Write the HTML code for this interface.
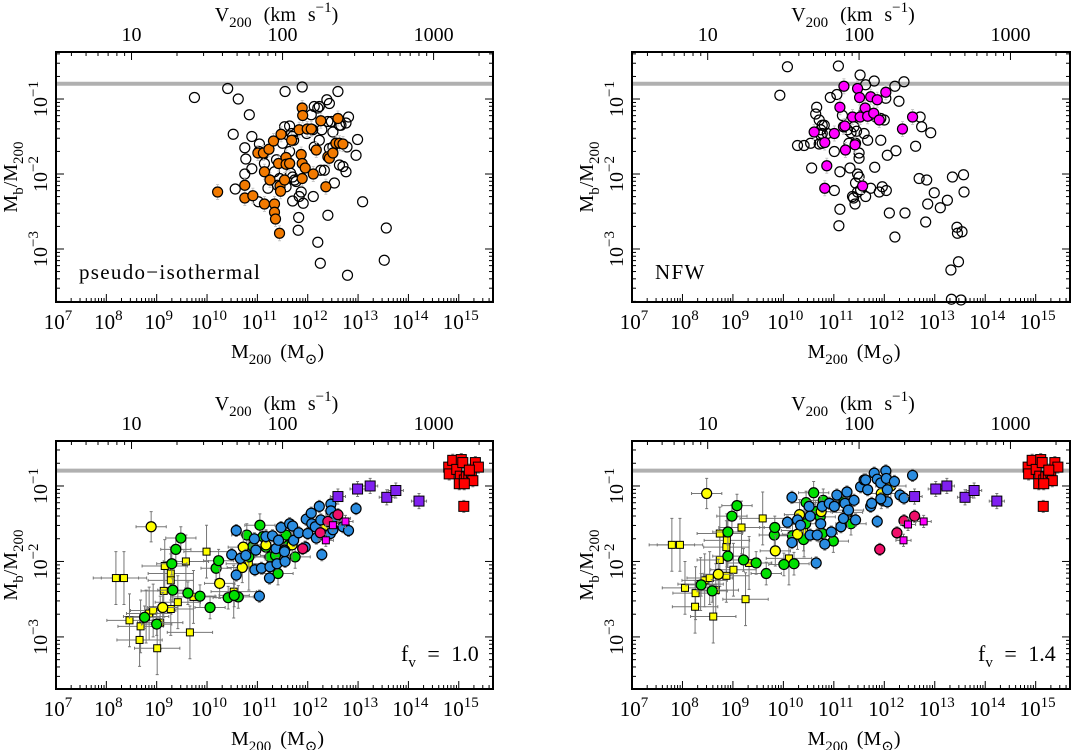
<!DOCTYPE html>
<html><head><meta charset="utf-8"><style>
html,body{margin:0;padding:0;background:#fff;}
svg{display:block;font-family:"Liberation Serif","DejaVu Serif",serif;}
</style></head><body>
<svg id="fig" width="1073" height="750" viewBox="0 0 1073 750" xmlns="http://www.w3.org/2000/svg"></svg>
<script>
// ---------- DATA (log10 M200 [Msun], log10 Mb/M200) ----------
const tlOpenM=[9.75,10.41,10.62,10.84,10.52,10.75,10.77,10.75,10.56,10.89,10.89,11.04,11.03,11.13,11.14,11.02,11.21,11.34,11.38,11.50,11.54,11.55,11.64,11.68,11.70,11.64,11.64,11.66,11.70,11.74,11.77,11.70,11.83,11.82,11.87,11.89,11.91,11.81,12.07,12.13,12.20,11.98,12.10,12.13,12.23,12.28,12.26,12.33,12.38,12.43,12.40,12.47,12.50,12.43,12.50,12.56,12.60,12.63,12.66,12.76,12.81,12.63,12.70,12.76,12.53,12.78,12.99,12.96,13.09,12.11,12.40,12.20,12.25,12.79,13.56,13.52,11.44,11.40,11.57,11.72,12.23];
const tlOpenF=[-0.98,-0.86,-1.00,-1.21,-1.47,-1.65,-1.80,-2.00,-2.20,-1.93,-1.50,-1.60,-1.70,-1.73,-1.86,-2.37,-2.19,-1.97,-1.81,-1.59,-1.37,-0.90,-1.36,-1.46,-1.50,-1.70,-1.86,-1.99,-2.04,-2.08,-2.10,-2.36,-2.30,-2.58,-2.24,-0.84,-2.39,-2.75,-1.21,-1.10,-1.12,-1.46,-1.41,-1.64,-1.55,-1.41,-1.95,-1.95,-1.01,-1.06,-1.30,-1.30,-1.44,-1.66,-1.64,-1.59,-0.90,-1.35,-1.35,-1.32,-1.24,-1.88,-1.90,-1.97,-2.12,-1.64,-1.54,-1.75,-2.37,-2.30,-2.55,-2.91,-3.19,-3.35,-2.72,-3.15,-2.06,-2.15,-2.17,-1.55,-1.10];
const tlFillM=[10.21,10.75,10.75,10.91,11.14,11.34,11.34,11.36,11.44,11.01,11.12,11.23,11.32,11.47,11.14,11.25,11.42,11.45,11.46,11.54,11.57,11.57,11.64,11.68,11.83,11.89,11.90,11.87,11.89,11.95,11.89,11.99,12.07,12.11,12.17,12.26,12.36,12.40,12.43,12.50,12.56,12.60,12.63,12.70];
const tlFillF=[-2.24,-2.15,-2.32,-2.29,-2.40,-2.40,-2.51,-2.60,-2.79,-1.72,-1.72,-1.67,-1.56,-1.47,-1.97,-2.08,-1.86,-2.16,-2.23,-2.08,-1.78,-1.87,-1.86,-1.55,-1.41,-1.12,-1.22,-1.74,-1.86,-1.92,-2.06,-1.40,-1.40,-2.00,-1.68,-1.29,-2.17,-1.77,-1.79,-1.72,-1.59,-1.26,-1.59,-1.60];
const trOpenM=[10.08,11.09,9.93,11.52,11.63,11.80,12.21,12.39,10.93,11.06,12.29,12.03,10.66,10.64,10.71,10.77,10.81,10.74,10.77,10.74,10.77,10.71,10.28,10.41,10.54,10.87,11.17,11.27,11.34,11.40,11.45,11.60,11.67,11.43,11.30,11.01,11.50,11.50,11.93,12.06,12.23,12.71,12.74,12.92,12.62,10.56,11.12,11.32,11.81,11.47,11.50,11.01,11.43,11.47,11.53,11.73,11.90,11.96,12.04,11.37,11.39,11.42,11.63,11.12,11.10,12.10,12.41,12.21,12.69,12.84,12.99,12.86,13.11,13.25,13.35,13.57,13.58,13.44,13.45,13.54,13.32,13.47,13.33,13.52,11.93,12.00,11.83,11.77,12.82,11.60,11.67];
const trOpenF=[-0.57,-0.56,-0.95,-0.68,-0.81,-0.76,-0.83,-0.77,-0.98,-0.94,-1.03,-0.99,-1.11,-1.20,-1.28,-1.35,-1.35,-1.41,-1.46,-1.48,-1.59,-1.60,-1.62,-1.62,-1.59,-1.46,-1.22,-1.41,-1.45,-1.37,-1.43,-1.46,-1.55,-1.59,-1.59,-1.70,-1.72,-1.79,-1.55,-1.75,-1.69,-1.24,-1.37,-1.45,-1.63,-1.92,-1.97,-1.92,-1.91,-2.00,-2.04,-2.22,-2.12,-2.24,-2.21,-2.19,-2.24,-2.17,-2.22,-2.30,-2.32,-2.40,-2.30,-2.47,-2.69,-2.52,-2.52,-2.84,-2.06,-2.08,-2.25,-2.40,-2.45,-2.35,-2.04,-2.01,-2.24,-2.71,-2.79,-2.77,-3.28,-3.17,-3.67,-3.68,-1.26,-1.28,-1.24,-1.21,-2.64,-1.17,-1.19];
const trFillM=[10.61,10.82,10.86,10.82,11.01,11.12,11.19,11.20,11.23,11.37,11.42,11.47,11.51,11.52,11.57,11.62,11.67,11.73,11.79,11.86,11.90,12.03,12.36,12.56,11.22];
const trFillF=[-1.44,-1.58,-1.89,-2.19,-1.46,-1.11,-1.37,-0.83,-1.68,-1.24,-1.61,-0.86,-0.98,-1.24,-2.16,-1.12,-1.23,-0.97,-1.19,-1.01,-1.28,-0.91,-1.40,-1.24,-1.36];

const blYsqM=[8.19,8.35,8.46,8.66,8.68,8.79,8.85,8.93,9.01,9.07,9.14,9.16,9.28,9.28,9.28,9.42,9.58,9.66,9.73,9.99,10.53,10.83];
const blYsqF=[-2.22,-2.22,-2.78,-3.04,-2.86,-2.73,-2.69,-2.65,-3.15,-2.81,-2.39,-2.06,-2.16,-2.25,-2.63,-2.54,-2.00,-2.94,-2.47,-1.87,-2.40,-2.03];
const blYcM=[8.89,9.12,10.25,10.72,10.70,11.17,11.69,12.36,12.55];
const blYcF=[-1.54,-2.61,-2.29,-1.81,-2.08,-1.78,-1.78,-1.53,-1.43];
const blGrM=[8.76,9.00,9.30,9.32,9.38,9.48,9.62,9.86,10.06,10.18,10.23,10.42,10.62,10.54,10.79,10.83,10.91,11.05,11.11,11.17,11.25,11.36,11.41,11.57,11.61,11.75];
const blGrF=[-2.74,-2.83,-2.03,-2.38,-1.84,-1.69,-2.42,-2.46,-2.61,-2.09,-1.99,-2.48,-2.47,-2.45,-1.65,-1.94,-1.80,-1.52,-1.67,-1.81,-1.94,-1.92,-2.16,-1.65,-1.79,-1.94];
const blBlM=[10.58,10.49,10.58,10.66,10.77,10.94,10.97,10.95,11.04,11.08,11.17,11.25,11.24,11.30,11.37,11.39,11.42,11.47,11.55,11.54,11.64,11.70,11.72,11.82,11.97,12.00,12.07,12.08,12.15,12.17,12.28,12.23,12.26,12.33,12.46,12.46,12.45,12.53,12.70,12.81,12.96,12.50,11.95,11.54];
const blBlF=[-1.59,-1.91,-2.18,-1.96,-1.92,-1.70,-1.85,-2.11,-2.46,-2.09,-1.67,-2.07,-2.22,-1.66,-1.83,-2.03,-1.72,-1.55,-2.00,-1.85,-1.50,-1.53,-1.72,-1.62,-1.44,-1.63,-1.36,-1.50,-1.54,-1.69,-1.91,-1.27,-1.45,-1.65,-1.24,-1.33,-1.63,-1.41,-1.54,-1.59,-1.30,-1.58,-1.81,-1.87];
const blCrM=[11.90,12.25,12.40,12.60];
const blCrF=[-1.83,-1.62,-1.47,-1.38];
const blMgM=[12.36,12.75,12.50];
const blMgF=[-1.72,-1.47,-1.52];
const blPuM=[12.60,12.99,13.24,13.57,13.75,14.21];
const blPuF=[-1.14,-1.04,-1.00,-1.15,-1.06,-1.20];
const blRdM=[14.80,14.81,14.88,14.96,15.03,15.05,15.08,15.01,15.11,15.15,15.20,15.25,15.28,15.33,15.39,15.10,15.11,15.21];
const blRdF=[-0.75,-0.84,-0.66,-0.78,-0.87,-0.65,-0.69,-0.97,-0.92,-0.88,-0.88,-0.82,-0.93,-0.69,-0.75,-1.27,-0.97,-0.79];

const brYsqM=[7.79,7.95,8.05,8.26,8.25,8.36,8.44,8.54,8.61,8.66,8.74,8.74,8.88,8.87,8.87,9.01,9.17,9.25,9.32,9.59,10.11,10.41];
const brYsqF=[-1.78,-1.78,-2.35,-2.42,-2.60,-2.30,-2.25,-2.22,-2.73,-2.38,-1.98,-1.63,-1.72,-1.81,-2.19,-2.11,-1.55,-2.50,-2.02,-1.43,-1.96,-1.59];
const brYcM=[8.48,8.71,9.84,10.32,10.28,10.75,11.27,11.94,12.13];
const brYcF=[-1.10,-2.17,-1.86,-1.38,-1.64,-1.34,-1.35,-1.10,-1.00];
const brGrM=[8.37,8.59,8.90,8.90,8.98,9.08,9.21,9.46,9.66,9.82,9.83,10.01,10.21,10.18,10.40,10.45,10.60,10.44,10.64,10.73,10.79,10.99,11.20,11.29,11.34,10.77];
const brGrF=[-2.31,-2.39,-1.93,-1.61,-1.40,-1.26,-1.98,-2.02,-2.16,-1.65,-1.55,-2.04,-2.03,-1.66,-1.71,-1.22,-1.09,-1.50,-1.34,-1.41,-1.19,-1.73,-1.21,-1.32,-1.50,-1.63];
const brBlM=[10.17,10.08,10.17,10.28,10.34,10.51,10.53,10.53,10.65,10.67,10.74,10.77,10.82,10.91,10.95,11.01,11.06,11.14,11.19,11.22,11.26,11.29,11.40,11.43,11.53,11.60,11.63,11.67,11.73,11.80,11.86,11.86,11.93,11.96,12.03,12.04,12.06,12.06,12.20,12.31,12.39,12.56,11.93,11.75];
const brBlF=[-1.15,-1.48,-1.75,-1.45,-1.52,-1.27,-1.40,-1.65,-2.02,-1.65,-1.50,-1.27,-1.77,-1.23,-1.61,-1.27,-1.12,-1.54,-1.43,-1.23,-1.08,-1.32,-1.19,-1.45,-1.01,-0.92,-0.92,-1.05,-1.27,-0.83,-0.91,-1.47,-0.96,-1.19,-0.80,-0.90,-1.05,-1.21,-0.94,-1.12,-1.16,-0.86,-1.17,-1.23];
const brCrM=[11.91,12.25,12.39,12.60];
const brCrF=[-1.84,-1.62,-1.46,-1.40];
const brMgM=[12.38,12.47,12.78];
const brMgF=[-1.72,-1.51,-1.47];
const brPuM=[12.60,13.02,13.24,13.60,13.78,14.23];
const brPuF=[-1.14,-1.04,-1.00,-1.15,-1.06,-1.20];
const brRdM=[14.85,14.86,14.93,15.01,15.08,15.10,15.13,15.06,15.16,15.20,15.25,15.30,15.33,15.38,15.44,15.15,15.16,15.26];
const brRdF=[-0.75,-0.84,-0.66,-0.78,-0.87,-0.65,-0.69,-0.97,-0.92,-0.88,-0.88,-0.82,-0.93,-0.69,-0.75,-1.27,-0.97,-0.79];

const xTickExps=[7,8,9,10,11,12,13,14,15];
const yTickExps=[-1,-2,-3];
const vTickLabels=[10,100,1000];
const baryonFraction=0.16;
const panelLabels=["pseudo\u2212isothermal","NFW","1.0","1.4"];

// ---------- DRAWING ----------
const NS="http://www.w3.org/2000/svg";
const svg=document.getElementById('fig');
function el(tag,attrs,parent){const e=document.createElementNS(NS,tag);for(const k in attrs)e.setAttribute(k,attrs[k]);(parent||svg).appendChild(e);return e;}

const panels=[
 {name:'panel-pseudo-isothermal',x0:56,x1:493,y0:52,y1:302,fTop:-0.373,fBot:-3.707},
 {name:'panel-nfw',x0:632,x1:1070,y0:52,y1:302,fTop:-0.373,fBot:-3.707},
 {name:'panel-fv-1-0',x0:56,x1:493,y0:441,y1:689,fTop:-0.404,fBot:-3.69},
 {name:'panel-fv-1-4',x0:632,x1:1070,y0:441,y1:689,fTop:-0.404,fBot:-3.69}
];
const M_MIN=7,M_MAX=15.68;
panels.forEach(p=>{
 p.sx=m=>p.x0+(m-M_MIN)/(M_MAX-M_MIN)*(p.x1-p.x0);
 p.sy=f=>p.y0+(p.fTop-f)/(p.fTop-p.fBot)*(p.y1-p.y0);
});

function drawAxes(p,idx){
 const g=el('g',{});
 
 
 const yb=p.sy(Math.log10(baryonFraction));
 const bl=el('line',{x1:p.x0,x2:p.x1,y1:yb,y2:yb,stroke:'#b0b0b0','stroke-width':4},g);
 
 
 for(let d=7;d<=15;d++){
  for(let k=1;k<=9;k++){
   const m=d+Math.log10(k); if(m>M_MAX)continue;
   const x=p.sx(m), L=k===1?8:4;
   el('line',{x1:x,x2:x,y1:p.y1,y2:p.y1-L,stroke:'#000','stroke-width':1},g);
  }
 }
 xTickExps.forEach(e=>{
  const t=el('text',{x:p.sx(e)+2,y:p.y1+27,'text-anchor':'middle','font-size':21},g);
  
  
  t.innerHTML='10<tspan dy="-9" font-size="15">'+e+'</tspan>';
 });
 for(let d=0;d<=3;d++){
  for(let k=1;k<=9;k++){
   const v=Math.log10(k*Math.pow(10,d)); const m=3*v+5.5;
   if(m<M_MIN||m>M_MAX)continue;
   const x=p.sx(m), L=k===1?8:4;
   el('line',{x1:x,x2:x,y1:p.y0,y2:p.y0+L,stroke:'#000','stroke-width':1},g);
  }
 }
 vTickLabels.forEach(v=>{
  const t=el('text',{x:p.sx(3*Math.log10(v)+5.5),y:p.y0-11,'text-anchor':'middle','font-size':20},g);
  
  
  t.textContent=v;
 });
 for(let d=-4;d<=0;d++){
  for(let k=1;k<=9;k++){
   const f=d+Math.log10(k); if(f>p.fTop||f<p.fBot)continue;
   const y=p.sy(f), L=k===1?8:4;
   el('line',{x1:p.x0,x2:p.x0+L,y1:y,y2:y,stroke:'#000','stroke-width':1},g);
   el('line',{x1:p.x1,x2:p.x1-L,y1:y,y2:y,stroke:'#000','stroke-width':1},g);
  }
 }
 yTickExps.forEach(e=>{
  const y=p.sy(e);
  const t=el('text',{x:0,y:0,'text-anchor':'middle','font-size':20,transform:'translate('+(p.x0-9)+','+y+') rotate(-90)'},g);
  
  
  t.innerHTML='10<tspan dy="-9" font-size="15">\u2212'+(-e)+'</tspan>';
 });
 const cx=(p.x0+p.x1)/2;
 const xt=el('text',{x:cx+3,y:p.y1+56,'text-anchor':'middle','font-size':20,'word-spacing':4},g);
 
 
 xt.innerHTML='M<tspan dy="6" font-size="15">200</tspan><tspan dy="-6"> (M</tspan><tspan dy="6" font-size="15">\u2299</tspan><tspan dy="-6">)</tspan>';
 const tt=el('text',{x:cx+2,y:p.y0-31,'text-anchor':'middle','font-size':20,'word-spacing':7},g);
 
 
 tt.innerHTML='V<tspan dy="6" font-size="15">200</tspan><tspan dy="-6"> (km s</tspan><tspan dy="-9" font-size="15">\u22121</tspan><tspan dy="9">)</tspan>';
 const yt=el('text',{x:0,y:0,'text-anchor':'middle','font-size':20,transform:'translate('+(p.x0-39)+','+((p.y0+p.y1)/2)+') rotate(-90)'},g);
 
 
 yt.innerHTML='M<tspan dy="6" font-size="15">b</tspan><tspan dy="-6">/M</tspan><tspan dy="6" font-size="15">200</tspan>';
 let lab;
 if(idx<2){lab=el('text',{x:p.x0+23,y:p.y1-23,'font-size':21,'letter-spacing':1.3},g);lab.textContent=panelLabels[idx];}
 else{lab=el('text',{x:p.x1-92,y:p.y1-28,'font-size':22,'word-spacing':6},g);lab.innerHTML='f<tspan dy="6" font-size="15">v</tspan><tspan dy="-6"> = '+panelLabels[idx]+'</tspan>';}
 
 
}

function drawSeries(p,ms,fs,opt){
 const g=el('g',{});
 
 
 ms.forEach((m,i)=>{
  const x=p.sx(m), y=p.sy(fs[i]);
  if(opt.ex||opt.ey){
   const x1=p.sx(m-opt.ex), x2=p.sx(m+opt.ex), y1=p.sy(fs[i]+opt.ey), y2=p.sy(fs[i]-opt.ey);
   el('path',{d:`M${x1},${y}H${x2}M${x},${y1}V${y2}M${x1},${y-1.5}v3M${x2},${y-1.5}v3M${x-1.5},${y1}h3M${x-1.5},${y2}h3`,stroke:opt.ec||'#777','stroke-width':1,fill:'none'},g);
  }
 });
 ms.forEach((m,i)=>{
  const x=p.sx(m), y=p.sy(fs[i]); let mk;
  if(opt.shape==='sq') mk=el('rect',{x:x-opt.s/2,y:y-opt.s/2,width:opt.s,height:opt.s,fill:opt.fill,stroke:'#000','stroke-width':1},g);
  else mk=el('circle',{cx:x,cy:y,r:opt.s,fill:opt.fill,stroke:'#000','stroke-width':1.2},g);
  
  
 });
}

panels.forEach((p,i)=>drawAxes(p,i));

const [TL,TR,BL,BR]=panels;
drawSeries(TL,tlOpenM,tlOpenF,{name:'open-circles',shape:'c',s:5,fill:'none'});
drawSeries(TL,tlFillM,tlFillF,{name:'orange-circles',shape:'c',s:5,fill:'#f27a00',ex:0.08,ey:0.1,ec:'#c8c8c8'});
drawSeries(TR,trOpenM,trOpenF,{name:'open-circles',shape:'c',s:5,fill:'none'});
drawSeries(TR,trFillM,trFillF,{name:'magenta-circles',shape:'c',s:5,fill:'#ff00ff',ex:0.08,ey:0.1,ec:'#c8c8c8'});

[[BL,blYsqM,blYsqF,blYcM,blYcF,blGrM,blGrF,blBlM,blBlF,blCrM,blCrF,blMgM,blMgF,blPuM,blPuF,blRdM,blRdF],
 [BR,brYsqM,brYsqF,brYcM,brYcF,brGrM,brGrF,brBlM,brBlF,brCrM,brCrF,brMgM,brMgF,brPuM,brPuF,brRdM,brRdF]].forEach(a=>{
 const p=a[0];
 drawSeries(p,a[1],a[2],{name:'yellow-squares',shape:'sq',s:7,fill:'#ffff00',ex:0.45,ey:0.35});
 drawSeries(p,a[5],a[6],{name:'green-circles',shape:'c',s:5,fill:'#00e000',ex:0.3,ey:0.15});
 drawSeries(p,a[3],a[4],{name:'yellow-circles',shape:'c',s:5,fill:'#ffff00',ex:0.3,ey:0.2});
 drawSeries(p,a[7],a[8],{name:'blue-circles',shape:'c',s:5,fill:'#2a8ce0',ex:0.08,ey:0.08});
 drawSeries(p,a[9],a[10],{name:'crimson-circles',shape:'c',s:5,fill:'#f0106a',ex:0.1,ey:0.08});
 drawSeries(p,a[11],a[12],{name:'magenta-squares',shape:'sq',s:7,fill:'#ff00ff',ex:0.15,ey:0.08});
 drawSeries(p,a[13],a[14],{name:'purple-squares',shape:'sq',s:10,fill:'#8020f0',ex:0.15,ey:0.1});
 drawSeries(p,a[15],a[16],{name:'red-squares',shape:'sq',s:10,fill:'#ff0000',ex:0.08,ey:0.08});
});

panels.forEach(p=>{
 const b=el('rect',{x:p.x0,y:p.y0,width:p.x1-p.x0,height:p.y1-p.y0,fill:'none',stroke:'#000','stroke-width':2});
 
 
});
</script>
</body></html>
